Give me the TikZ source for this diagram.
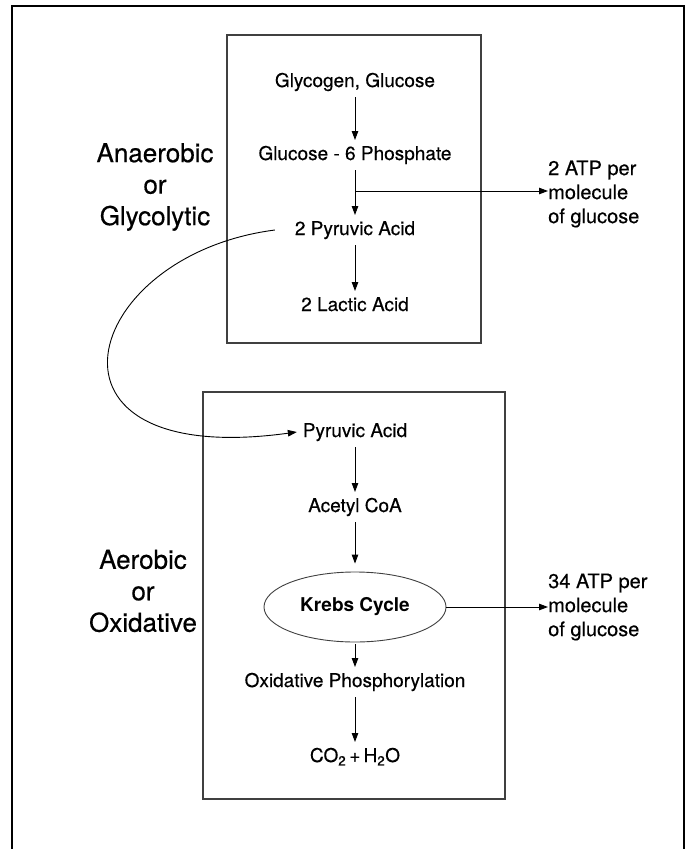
\documentclass[tikz,border=0pt]{standalone}
\usepackage{fontspec}
\setmainfont{TeX Gyre Heros}[UprightFeatures={FakeBold=0.4}]
\usetikzlibrary{arrows.meta,shapes.geometric}
\begin{document}
\begin{tikzpicture}[x=1pt,y=-1pt,
  lbl/.style={font=\fontsize{19}{23}\selectfont, text height=14pt, text depth=4pt, inner sep=0pt, outer sep=6pt},
  side/.style={font=\fontsize{26}{31.5}\selectfont, align=center, inner sep=0pt},
  atp/.style={font=\fontsize{20}{24}\selectfont, align=left, inner sep=0pt, anchor=west},
  arr/.style={line width=0.9pt, -{Triangle[length=9pt,width=6.5pt]}},
  box/.style={line width=1.1pt, draw=black!75},
]
\useasboundingbox (0,0) rectangle (688,849);
% outer frame (open at the bottom)
\draw[line width=2pt] (12,849) -- (12,6) -- (684,6) -- (684,849);
% boxes
\draw[box] (227,35) rectangle (481,343);
\draw[box] (203,392) rectangle (505,799);
% side labels
\node[side] (anaer) at (155,187) {Anaerobic\\or\\Glycolytic};
\node[side] (aer) at (143,591) {Aerobic\\or\\Oxidative};
% top box
\node[lbl] (gg) at (355,82) {Glycogen, Glucose};
\node[lbl] (g6p) at (355,155) {Glucose - 6 Phosphate};
\node[lbl] (py2) at (355,230) {2 Pyruvic Acid};
\node[lbl] (lac) at (355,306) {2 Lactic Acid};
\node[atp] (atp1) at (548,194) {2 ATP per\\molecule\\of glucose};
\coordinate (br) at (355,191);
\draw[arr] (gg) -- (g6p);
\draw[arr] (g6p) -- (py2);
\draw[arr] (br) -- (br -| atp1.west);
\draw[arr] (py2) -- (lac);
% bottom box
\node[lbl] (pyr) at (355,432) {Pyruvic Acid};
\node[lbl] (acoa) at (355,507) {Acetyl CoA};
\node[ellipse, draw=black!75, line width=0.9pt, minimum width=182pt, minimum height=70pt, inner sep=0pt,
      font=\bfseries\fontsize{19}{23}\selectfont] (krebs) at (355,607) {Krebs Cycle};
\node[lbl] (ox) at (355,682) {Oxidative Phosphorylation};
\node[lbl] (co) at (355,757) {CO\textsubscript{2}\,+\,H\textsubscript{2}O};
\node[atp] (atp2) at (548,607) {34 ATP per\\molecule\\of glucose};
\draw[arr] (pyr) -- (acoa);
\draw[arr] (acoa) -- ([yshift=8pt]krebs.north);
\draw[arr] ([yshift=-2pt]krebs.south) -- (ox);
\draw[arr] (ox) -- (co);
\draw[arr] (krebs.east) -- (krebs.east -| atp2.west);
% curved connector
\draw[arr] ([xshift=-14pt]py2.west) .. controls (80,255) and (20,470) .. (pyr.west);
\end{tikzpicture}
\end{document}
